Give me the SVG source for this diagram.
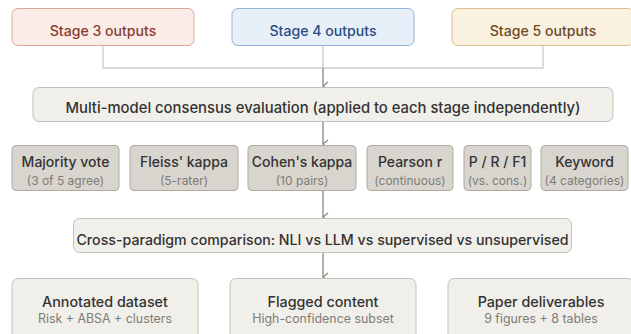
<svg xmlns="http://www.w3.org/2000/svg" width="631" height="334" viewBox="0 0 631 334">
<defs>
<marker id="arr" viewBox="0 0 10 10" refX="5" refY="9" markerWidth="10" markerHeight="10" markerUnits="userSpaceOnUse" orient="auto-start-reverse">
<path d="M1,4 L5,9 L9,4" fill="none" stroke="#8a8781" stroke-width="1.3"/>
</marker>
<style>
text{font-family:Inter,"Noto Sans","Liberation Sans",sans-serif;text-anchor:middle}
.t{font-size:14.3px;font-weight:500;fill:#333}
.m{font-size:14px;font-weight:500;fill:#333}
.s{font-size:12px;fill:#7e7c77}
.s2{font-size:12.4px;fill:#7e7c77}
.light{fill:none;stroke:#cfcdc8;stroke-width:1.3}
.dark{fill:none;stroke:#8a8781;stroke-width:1.3}
.gray{fill:#f1efea;stroke:#c4c1ba;stroke-width:1}
.met{fill:#d8d5ce;stroke:#aeaaa2;stroke-width:1}
</style>
</defs>
<g id="connectors">
<path class="light" d="M103,45 V68 H543 V45"/>
<path class="light" d="M323,45 V68"/>
<path class="dark" d="M323,68 V86" marker-end="url(#arr)"/>
<path class="dark" d="M323,121 V144" marker-end="url(#arr)"/>
<path class="dark" d="M323,191 V217" marker-end="url(#arr)"/>
<path class="dark" d="M323,253 V277" marker-end="url(#arr)"/>
</g>
<g id="stage3">
<rect x="12" y="8.5" width="182" height="37" rx="6" fill="#fbece8" stroke="#dba99b"/>
<text class="t" x="103" y="36" style="font-size:14.1px;fill:#8b3d2c">Stage 3 outputs</text>
</g>
<g id="stage4">
<rect x="232" y="8.5" width="182" height="37" rx="6" fill="#e7eff9" stroke="#92b3dc"/>
<text class="t" x="323" y="36" style="font-size:14.1px;fill:#2c4d7e">Stage 4 outputs</text>
</g>
<g id="stage5">
<rect x="452" y="8.5" width="182" height="37" rx="6" fill="#fbf1e1" stroke="#dbbd90"/>
<text class="t" x="543" y="36" style="font-size:14.1px;fill:#6e4c1f">Stage 5 outputs</text>
</g>
<g id="consensus">
<rect class="gray" x="33" y="87.5" width="580" height="34" rx="6"/>
<text class="t" x="323" y="113" style="font-size:14.8px">Multi-model consensus evaluation (applied to each stage independently)</text>
</g>
<g id="majority">
<rect class="met" x="12" y="145.5" width="107" height="45" rx="4"/>
<text class="m" x="65.5" y="167">Majority vote</text>
<text class="s" x="65.5" y="185">(3 of 5 agree)</text>
</g>
<g id="fleiss">
<rect class="met" x="130" y="145.5" width="108" height="45" rx="4"/>
<text class="m" x="184" y="167">Fleiss' kappa</text>
<text class="s" x="184" y="185">(5-rater)</text>
</g>
<g id="cohen">
<rect class="met" x="248" y="145.5" width="108" height="45" rx="4"/>
<text class="m" x="302" y="167">Cohen's kappa</text>
<text class="s" x="302" y="185">(10 pairs)</text>
</g>
<g id="pearson">
<rect class="met" x="367" y="145.5" width="86" height="45" rx="4"/>
<text class="m" x="410" y="167">Pearson r</text>
<text class="s" x="410" y="185">(continuous)</text>
</g>
<g id="prf1">
<rect class="met" x="464" y="145.5" width="67" height="45" rx="4"/>
<text class="m" x="497.5" y="167">P / R / F1</text>
<text class="s" x="497.5" y="185">(vs. cons.)</text>
</g>
<g id="keyword">
<rect class="met" x="541" y="145.5" width="87" height="45" rx="4"/>
<text class="m" x="584.5" y="167">Keyword</text>
<text class="s" x="584.5" y="185">(4 categories)</text>
</g>
<g id="crossparadigm">
<rect class="gray" x="73.5" y="218.5" width="498" height="34" rx="6"/>
<text class="t" x="322.5" y="244.5" style="font-size:14.2px">Cross-paradigm comparison: NLI vs LLM vs supervised vs unsupervised</text>
</g>
<g id="annotated">
<rect class="gray" x="12" y="278.5" width="186" height="62" rx="6"/>
<text class="t" x="105" y="307">Annotated dataset</text>
<text class="s2" x="105" y="323">Risk + ABSA + clusters</text>
</g>
<g id="flagged">
<rect class="gray" x="230" y="278.5" width="186" height="62" rx="6"/>
<text class="t" x="323" y="307">Flagged content</text>
<text class="s2" x="323" y="323">High-confidence subset</text>
</g>
<g id="paper">
<rect class="gray" x="448" y="278.5" width="186" height="62" rx="6"/>
<text class="t" x="541" y="307">Paper deliverables</text>
<text class="s2" x="541" y="323">9 figures + 8 tables</text>
</g>
</svg>
